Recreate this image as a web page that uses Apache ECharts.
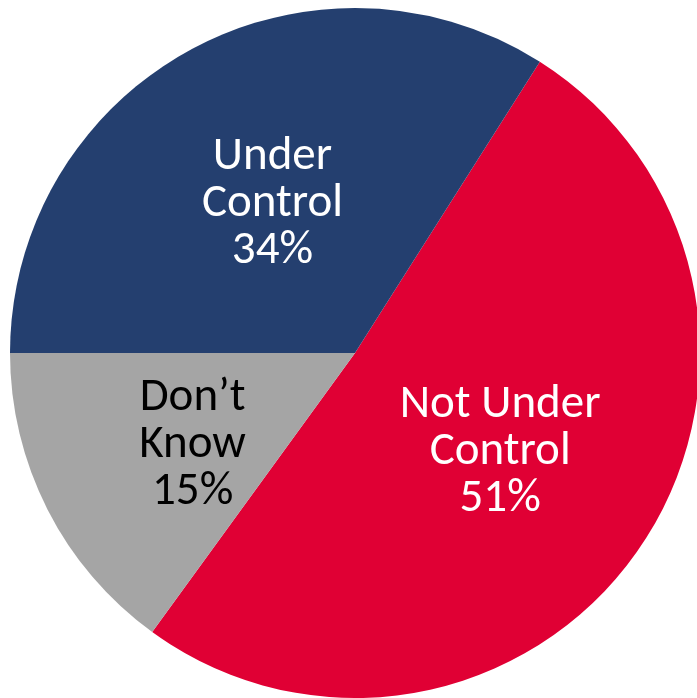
<!DOCTYPE html>
<html>
<head>
<meta charset="utf-8">
<script src="https://cdn.jsdelivr.net/npm/echarts@6/dist/echarts.min.js"></script>
<style>html,body{margin:0;padding:0;background:#fff;}#c{width:697px;height:698px;}</style>
</head>
<body>
<div id="c"></div>
<script>
const categories = ["Not Under Control", "Don’t Know", "Under Control"];
const labelTexts = ["Not Under\nControl", "Don’t\nKnow", "Under\nControl"];
const values = [51, 15, 34];

const style = {
  "Not Under Control": { color: "#E00034", text: "#ffffff", offset: [0, 1] },
  "Don’t Know": { color: "#A5A5A5", text: "#000000", offset: [-6, 13] },
  "Under Control": { color: "#243F6F", text: "#ffffff", offset: [2, 5] }
};

const chart = echarts.init(document.getElementById('c'));
chart.setOption({
  animation: false,
  series: [{
    type: 'pie',
    center: [355, 353],
    radius: [0, 345],
    startAngle: 57.6,
    clockwise: true,
    avoidLabelOverlap: false,
    labelLine: { show: false },
    data: categories.map((c, i) => ({
      name: c,
      value: values[i],
      itemStyle: { color: style[c].color },
      label: {
        show: true,
        position: 'inside',
        formatter: labelTexts[i] + '\n' + values[i] + '%',
        color: style[c].text,
        offset: style[c].offset,
        fontFamily: 'Carlito, Lato, sans-serif',
        fontSize: 47,
        lineHeight: 47,
        align: 'center'
      }
    }))
  }]
});
</script>
</body>
</html>
